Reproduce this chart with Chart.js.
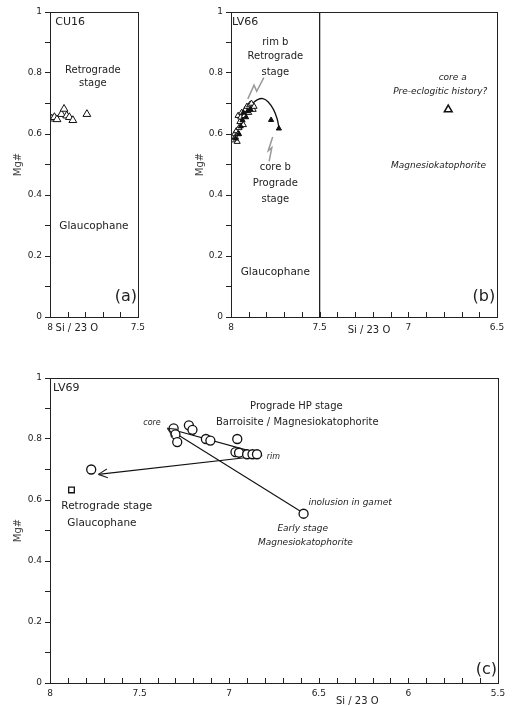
<!DOCTYPE html>
<html>
<head>
<meta charset="utf-8">
<script src="https://cdn.jsdelivr.net/npm/chart.js@4.4.1/dist/chart.umd.min.js"></script>
<style>
  html, body { margin: 0; padding: 0; background: #fff; }
  #wrap { position: relative; width: 512px; height: 706px; overflow: hidden; }
  canvas { position: absolute; }
</style>
</head>
<body>
<div id="wrap">
  <canvas id="chart-a" width="150" height="340" style="left:0px;top:0px"></canvas>
  <canvas id="chart-b" width="331" height="340" style="left:181px;top:0px"></canvas>
  <canvas id="chart-c" width="512" height="366" style="left:0px;top:340px"></canvas>
</div>
<script>
const AXIS = '#222';
const TEXT = '#222';
const FONT = '"DejaVu Sans", "Liberation Sans", sans-serif';

// tick labels
const yTickLabels = [0, 0.2, 0.4, 0.6, 0.8, 1];
const xTickLabels = [8, 7.5, 7, 6.5, 6, 5.5];

// (a) CU16 - [Si, Mg#]
const cu16Triangles = [[7.99, 0.65], [7.975, 0.655], [7.96, 0.648], [7.935, 0.665], [7.92, 0.682],
    [7.905, 0.66], [7.89, 0.655], [7.87, 0.645], [7.79, 0.665]];

// (b) LV66
const lv66Open = [[7.985, 0.58], [7.98, 0.60], [7.975, 0.59], [7.97, 0.61], [7.965, 0.575], [7.96, 0.60],
    [7.955, 0.62], [7.95, 0.64], [7.96, 0.66], [7.945, 0.655], [7.94, 0.67], [7.93, 0.63], [7.925, 0.66],
    [7.92, 0.68], [7.91, 0.69], [7.90, 0.67], [7.895, 0.695], [7.885, 0.70], [7.875, 0.68], [7.87, 0.69]];
const lv66Filled = [[7.975, 0.585], [7.955, 0.60], [7.945, 0.625], [7.935, 0.645], [7.93, 0.67],
    [7.915, 0.655], [7.905, 0.675], [7.89, 0.68], [7.774, 0.646], [7.73, 0.618]];
const lv66CoreA = [[6.775, 0.68]];
const lv66Arc = [[7.88, 0.70], [7.85, 0.713], [7.82, 0.716], [7.79, 0.705], [7.76, 0.68], [7.74, 0.65], [7.73, 0.622]];
const lv66BoltRim = [[7.905, 0.715], [7.87, 0.76], [7.855, 0.74], [7.815, 0.785]];
const lv66BoltCore = [[7.765, 0.59], [7.79, 0.545], [7.77, 0.555], [7.785, 0.51]];
const boundary75 = [[7.5, 0], [7.5, 1]];

// (c) LV69
const lv69Circles = [[7.31, 0.835], [7.30, 0.815], [7.29, 0.79], [7.225, 0.845], [7.205, 0.83], [7.13, 0.80],
    [7.105, 0.795], [6.955, 0.80], [6.965, 0.757], [6.945, 0.755], [6.90, 0.75], [6.87, 0.75], [6.845, 0.75],
    [7.77, 0.70], [6.585, 0.555]];
const lv69Square = [[7.88, 0.633]];
const lv69CoreToInclusion = [[6.60, 0.562], [7.345, 0.835]];
const lv69CoreToRim = [[7.345, 0.835], [6.83, 0.752]];
const lv69RimToRetro = [[6.815, 0.745], [7.73, 0.684]];

// text notes: [Si, Mg#, text, align, italic, size]
const notesA = [
    [7.97, 0.967, 'CU16', 'left', false, 11],
    [7.756, 0.81, 'Retrograde', 'center', false, 10],
    [7.756, 0.767, 'stage', 'center', false, 10],
    [7.75, 0.298, 'Glaucophane', 'center', false, 10.5],
    [7.505, 0.066, '(a)', 'right', false, 16],
    [7.847, -0.037, 'Si / 23 O', 'center', false, 10],
];
const notesB = [
    [7.995, 0.967, 'LV66', 'left', false, 11],
    [7.75, 0.90, 'rim b', 'center', false, 10],
    [7.75, 0.853, 'Retrograde', 'center', false, 10],
    [7.75, 0.803, 'stage', 'center', false, 10],
    [7.75, 0.492, 'core b', 'center', false, 10],
    [7.75, 0.439, 'Prograde', 'center', false, 10],
    [7.75, 0.387, 'stage', 'center', false, 10],
    [7.75, 0.148, 'Glaucophane', 'center', false, 10.5],
    [6.75, 0.784, 'core a', 'center', true, 9],
    [6.82, 0.738, 'Pre-eclogitic history?', 'center', true, 9],
    [6.83, 0.495, 'Magnesiokatophorite', 'center', true, 9],
    [6.51, 0.066, '(b)', 'right', false, 16],
    [7.222, -0.045, 'Si / 23 O', 'center', false, 10],
];
const notesC = [
    [7.983, 0.967, 'LV69', 'left', false, 11],
    [6.625, 0.908, 'Prograde HP stage', 'center', false, 10],
    [6.62, 0.856, 'Barroisite / Magnesiokatophorite', 'center', false, 10],
    [7.382, 0.852, 'core', 'right', true, 8],
    [6.79, 0.741, 'rim', 'left', true, 8],
    [6.558, 0.59, 'inolusion in gamet', 'left', true, 9],
    [6.59, 0.505, 'Early stage', 'center', true, 9],
    [6.575, 0.459, 'Magnesiokatophorite', 'center', true, 9],
    [7.683, 0.58, 'Retrograde stage', 'center', false, 10.5],
    [7.71, 0.525, 'Glaucophane', 'center', false, 10.5],
    [5.505, 0.043, '(c)', 'right', false, 16],
    [6.285, -0.06, 'Si / 23 O', 'center', false, 10],
];

const pts = (arr) => arr.map(([x, y]) => ({ x, y }));
const near = (v, list) => list.some((t) => Math.abs(t - v) < 1e-6);

const marks = (data, style, extra = {}) => ({
    data: pts(data), pointStyle: style, borderColor: '#111', borderWidth: 1,
    backgroundColor: '#fff', pointRadius: 4, showLine: false, order: 0, ...extra,
});
const line = (data, extra = {}) => ({
    data: pts(data), showLine: true, pointRadius: 0, borderColor: '#111', borderWidth: 1.1,
    fill: false, order: 1, ...extra,
});

const framePlugin = {
    id: 'frame',
    afterDatasetsDraw(chart) {
        const { ctx, chartArea: a, scales: { x } } = chart;
        ctx.save();
        ctx.strokeStyle = AXIS;
        ctx.lineWidth = 1;
        ctx.strokeRect(Math.round(a.left) + 0.5, Math.round(a.top) + 0.5,
            Math.round(a.right - a.left), Math.round(a.bottom - a.top));
        ctx.beginPath();
        x.ticks.forEach((t) => {
            const px = Math.round(x.getPixelForValue(t.value)) + 0.5;
            ctx.moveTo(px, a.bottom);
            ctx.lineTo(px, a.bottom - 5);
        });
        ctx.stroke();
        // arrow heads on line datasets flagged arrowEnd
        chart.data.datasets.forEach((ds, i) => {
            if (!ds.arrowEnd) return;
            const p = chart.getDatasetMeta(i).data;
            const tip = p[p.length - 1], prev = p[p.length - 2];
            const ang = Math.atan2(tip.y - prev.y, tip.x - prev.x);
            ctx.beginPath();
            [-0.45, 0.45].forEach((d) => {
                ctx.moveTo(tip.x, tip.y);
                ctx.lineTo(tip.x - 10 * Math.cos(ang + d), tip.y - 10 * Math.sin(ang + d));
            });
            ctx.lineWidth = 1.1;
            ctx.stroke();
        });
        ctx.restore();
    },
};

const notesPlugin = (notes) => ({
    id: 'notes',
    afterDraw(chart) {
        const { ctx, scales: { x, y } } = chart;
        ctx.save();
        ctx.fillStyle = TEXT;
        ctx.textBaseline = 'middle';
        notes.forEach(([sx, my, text, align, italic, size]) => {
            ctx.font = `${italic ? 'italic ' : ''}${size}px ${FONT}`;
            ctx.textAlign = align;
            ctx.fillText(text, x.getPixelForValue(sx), y.getPixelForValue(my));
        });
        ctx.restore();
    },
});

const makeChart = (id, { xMin, xMax, datasets, notes, padTop, padRight, titlePad, tickPad }) => new Chart(document.getElementById(id), {
    type: 'scatter',
    data: { datasets },
    options: {
        responsive: false,
        animation: false,
        layout: { padding: { top: padTop, right: padRight, left: 0, bottom: 0 } },
        plugins: { legend: { display: false }, tooltip: { enabled: false } },
        scales: {
            x: {
                type: 'linear', min: xMin, max: xMax, reverse: true,
                afterFit: (s) => { s.height = 23; },
                grid: { display: false, drawTicks: false },
                border: { display: false },
                ticks: {
                    stepSize: 0.1, autoSkip: false, maxRotation: 0, padding: tickPad, color: TEXT,
                    font: { family: FONT, size: 9 },
                    callback: (v) => (near(v, xTickLabels) ? String(+v.toFixed(1)) : ''),
                },
            },
            y: {
                min: 0, max: 1,
                afterFit: (s) => { s.width = 50; },
                grid: { drawOnChartArea: false, tickLength: 5, color: AXIS },
                border: { display: false },
                ticks: {
                    stepSize: 0.1, autoSkip: false, padding: 3, color: TEXT,
                    font: { family: FONT, size: 9 },
                    callback: (v) => (near(v, yTickLabels) ? (v === 0 || v === 1 ? String(v) : v.toFixed(1)) : ''),
                },
                title: { display: true, text: 'Mg#', color: '#444', font: { family: FONT, size: 10 }, padding: { top: titlePad, bottom: 0 } },
            },
        },
    },
    plugins: [framePlugin, notesPlugin(notes)],
});

makeChart('chart-a', {
    xMin: 7.5, xMax: 8, notes: notesA, padTop: 12, padRight: 10, titlePad: 12, tickPad: 5,
    datasets: [marks(cu16Triangles, 'triangle', { pointRadius: 4.5 })],
});

makeChart('chart-b', {
    xMin: 6.5, xMax: 8, notes: notesB, padTop: 12, padRight: 15, titlePad: 13, tickPad: 5,
    datasets: [
        marks(lv66Filled, 'triangle', { pointRadius: 3, backgroundColor: '#111' }),
        marks(lv66Open, 'triangle', { pointRadius: 3.5 }),
        marks(lv66CoreA, 'triangle', { pointRadius: 4.5, borderWidth: 1.5 }),
        line(lv66Arc, { tension: 0.4, borderWidth: 1.3 }),
        line(lv66BoltRim, { borderColor: '#999', borderWidth: 1.5 }),
        line(lv66BoltCore, { borderColor: '#999', borderWidth: 1.5 }),
        line(boundary75, { borderWidth: 1.2 }),
    ],
});

makeChart('chart-c', {
    xMin: 5.5, xMax: 8, notes: notesC, padTop: 38, padRight: 14, titlePad: 12, tickPad: 5,
    datasets: [
        marks(lv69Circles, 'circle', { pointRadius: 4.5, borderWidth: 1.3 }),
        marks(lv69Square, 'rect', { pointRadius: 4, borderWidth: 1.3 }),
        line(lv69CoreToInclusion, { arrowEnd: true }),
        line(lv69CoreToRim),
        line(lv69RimToRetro, { arrowEnd: true }),
    ],
});
</script>
</body>
</html>
